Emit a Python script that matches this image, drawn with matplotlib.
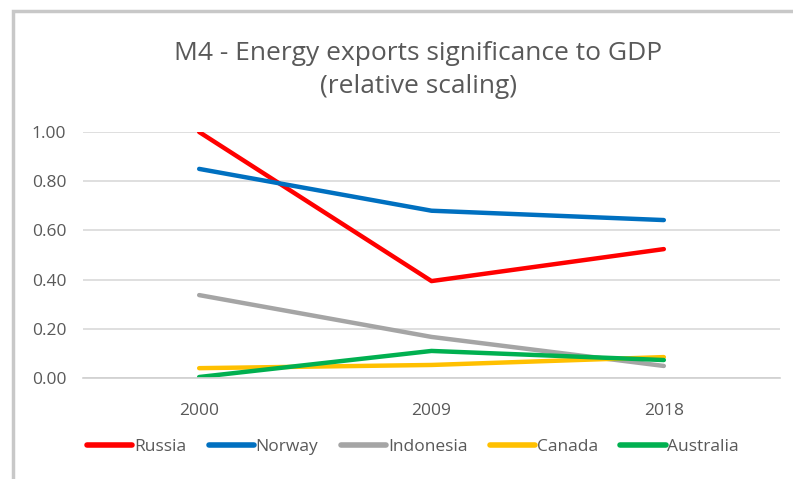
import matplotlib.pyplot as plt
from matplotlib.patches import Rectangle

# data
years = ["2000", "2009", "2018"]
russia = [1.00, 0.394, 0.524]
norway = [0.850, 0.680, 0.642]
indonesia = [0.337, 0.167, 0.049]
canada = [0.040, 0.053, 0.085]
australia = [0.004, 0.110, 0.073]

series = [
    ("Russia", russia, "#FF0000"),
    ("Norway", norway, "#0070C0"),
    ("Indonesia", indonesia, "#A5A5A5"),
    ("Canada", canada, "#FFC000"),
    ("Australia", australia, "#00B050"),
]

plt.rcParams['font.family'] = ['Open Sans', 'DejaVu Sans']
text_grey = "#595959"

fig = plt.figure(figsize=(7.93, 4.79), dpi=100)
ax = fig.add_axes([83/793, 101/479, 697/793, 246/479])

x = list(range(len(years)))
for name, vals, col in series:
    ax.plot(x, vals, color=col, lw=3.2, solid_capstyle='round', label=name)

ax.set_xlim(-0.5, 2.5)
ax.set_ylim(0, 1.0)
ax.set_yticks([0, 0.2, 0.4, 0.6, 0.8, 1.0])
ax.set_yticklabels([f"{v:.2f}" for v in [0, 0.2, 0.4, 0.6, 0.8, 1.0]])
ax.set_xticks(x)
ax.set_xticklabels(years)
ax.grid(axis='y', color="#D9D9D9", lw=1.2)
ax.set_axisbelow(True)
for s in ['top', 'right', 'left']:
    ax.spines[s].set_visible(False)
ax.spines['bottom'].set_color("#D0D0D0")
ax.spines['bottom'].set_linewidth(1.2)
ax.tick_params(length=0, labelcolor=text_grey, labelsize=12.5)
ax.tick_params(axis='y', pad=12)
ax.tick_params(axis='x', pad=18)

fig.text(418/793, 1 - 70/479, "M4 - Energy exports significance to GDP\n(relative scaling)",
         ha='center', va='center', fontsize=19, color=text_grey, linespacing=1.45)

leg = fig.legend(loc='center', bbox_to_anchor=(413/793, 1 - 447/479), ncol=5, frameon=False,
                 fontsize=12.5, handlelength=2.6, handletextpad=0.1, columnspacing=1.3,
                 labelcolor=text_grey)
for h in leg.legend_handles:
    h.set_linewidth(4)

# outer frame of the original chart (cropped on right and bottom)
fig.patches.append(Rectangle((13/793, -0.5), 1.5, 1.5 - 11/479, transform=fig.transFigure,
                             fill=False, edgecolor="#C8C8C8", lw=2.5))

fig.savefig("out.png", dpi=100)
